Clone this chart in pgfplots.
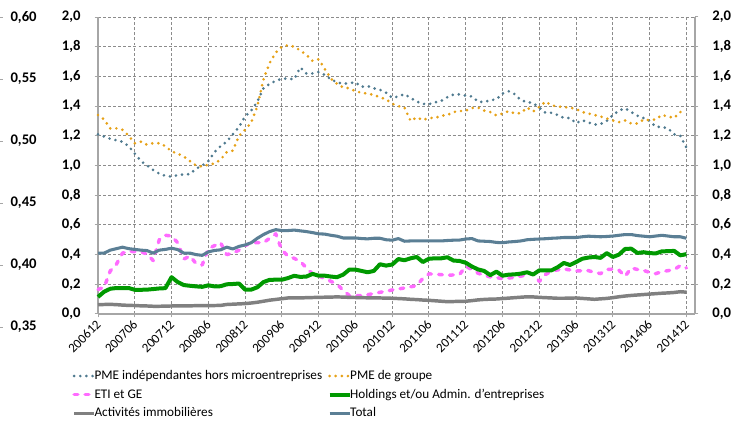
\documentclass[border=0pt]{standalone}
\usepackage{fontspec}
\setmainfont{Carlito}
\newfontfamily\fa{Carlito}
\usepackage{pgfplots}
\pgfplotsset{compat=1.18}
\usepackage{pgfplotstable}
\definecolor{cInd}{HTML}{4F7A8F}
\definecolor{cGrp}{HTML}{E6A117}
\definecolor{cEti}{HTML}{FF6BFF}
\definecolor{cHold}{HTML}{009900}
\definecolor{cImmo}{HTML}{808080}
\definecolor{cTot}{HTML}{5B7F95}
\definecolor{cGrid}{HTML}{8C8C8C}
\definecolor{cAxis}{HTML}{A6A6A6}
\pgfplotstableread{
i A B C D E F
0 1.21 1.34 0.165 0.115 0.063 0.41
1 1.195 1.31 0.18 0.15 0.064 0.41
2 1.18 1.25 0.29 0.17 0.065 0.43
3 1.17 1.25 0.335 0.175 0.063 0.44
4 1.16 1.24 0.41 0.175 0.06 0.45
5 1.13 1.20 0.422 0.175 0.058 0.44
6 1.08 1.15 0.42 0.163 0.057 0.435
7 1.03 1.16 0.418 0.163 0.055 0.43
8 1.00 1.14 0.404 0.164 0.054 0.427
9 0.97 1.15 0.36 0.168 0.052 0.41
10 0.945 1.15 0.50 0.172 0.052 0.43
11 0.93 1.13 0.53 0.174 0.053 0.435
12 0.925 1.095 0.525 0.248 0.054 0.443
13 0.935 1.08 0.48 0.215 0.054 0.434
14 0.94 1.06 0.37 0.195 0.055 0.41
15 0.942 1.03 0.39 0.19 0.055 0.41
16 0.978 1.00 0.34 0.186 0.056 0.40
17 1.00 0.993 0.33 0.183 0.056 0.395
18 1.03 1.005 0.44 0.193 0.057 0.418
19 1.09 1.013 0.46 0.186 0.057 0.428
20 1.13 1.04 0.48 0.187 0.058 0.432
21 1.16 1.09 0.40 0.20 0.064 0.45
22 1.21 1.10 0.41 0.202 0.066 0.438
23 1.26 1.20 0.43 0.205 0.068 0.455
24 1.33 1.24 0.46 0.164 0.07 0.465
25 1.37 1.29 0.48 0.164 0.074 0.48
26 1.43 1.40 0.48 0.18 0.079 0.51
27 1.52 1.58 0.48 0.215 0.086 0.535
28 1.55 1.69 0.51 0.23 0.093 0.555
29 1.57 1.76 0.54 0.231 0.098 0.568
30 1.585 1.80 0.43 0.231 0.103 0.562
31 1.585 1.81 0.39 0.242 0.108 0.562
32 1.58 1.80 0.375 0.257 0.108 0.565
33 1.66 1.775 0.355 0.25 0.108 0.56
34 1.62 1.745 0.31 0.252 0.11 0.555
35 1.62 1.705 0.27 0.27 0.111 0.548
36 1.63 1.715 0.255 0.258 0.112 0.54
37 1.61 1.65 0.24 0.258 0.113 0.538
38 1.58 1.585 0.22 0.252 0.114 0.53
39 1.56 1.55 0.2 0.248 0.115 0.524
40 1.55 1.526 0.16 0.265 0.114 0.512
41 1.555 1.52 0.124 0.299 0.112 0.512
42 1.56 1.50 0.124 0.299 0.111 0.512
43 1.53 1.49 0.124 0.29 0.11 0.508
44 1.535 1.484 0.13 0.281 0.109 0.506
45 1.52 1.475 0.138 0.29 0.108 0.51
46 1.51 1.46 0.146 0.335 0.108 0.51
47 1.49 1.445 0.153 0.326 0.107 0.5
48 1.455 1.416 0.162 0.333 0.106 0.497
49 1.465 1.40 0.169 0.37 0.104 0.508
50 1.48 1.39 0.175 0.362 0.102 0.49
51 1.455 1.30 0.183 0.375 0.099 0.492
52 1.43 1.324 0.191 0.384 0.097 0.492
53 1.415 1.306 0.24 0.35 0.094 0.492
54 1.413 1.32 0.27 0.372 0.092 0.492
55 1.425 1.32 0.268 0.375 0.089 0.492
56 1.435 1.335 0.265 0.375 0.086 0.492
57 1.46 1.34 0.261 0.382 0.083 0.495
58 1.478 1.36 0.263 0.36 0.084 0.497
59 1.479 1.366 0.267 0.357 0.085 0.498
60 1.47 1.37 0.32 0.345 0.086 0.505
61 1.465 1.387 0.30 0.32 0.09 0.508
62 1.43 1.39 0.275 0.3 0.095 0.492
63 1.427 1.37 0.26 0.29 0.098 0.49
64 1.44 1.36 0.25 0.262 0.1 0.488
65 1.445 1.337 0.245 0.285 0.101 0.482
66 1.485 1.35 0.238 0.258 0.104 0.48
67 1.50 1.366 0.242 0.265 0.107 0.485
68 1.48 1.35 0.247 0.267 0.11 0.488
69 1.44 1.353 0.255 0.272 0.113 0.492
70 1.427 1.39 0.263 0.281 0.116 0.5
71 1.42 1.364 0.272 0.266 0.115 0.503
72 1.39 1.395 0.22 0.294 0.112 0.505
73 1.355 1.43 0.265 0.294 0.11 0.507
74 1.355 1.405 0.29 0.294 0.108 0.51
75 1.34 1.398 0.297 0.315 0.106 0.512
76 1.32 1.393 0.303 0.344 0.106 0.515
77 1.32 1.39 0.297 0.33 0.107 0.515
78 1.285 1.38 0.29 0.35 0.108 0.515
79 1.305 1.36 0.291 0.372 0.105 0.52
80 1.29 1.35 0.292 0.38 0.102 0.524
81 1.275 1.34 0.28 0.384 0.099 0.522
82 1.28 1.33 0.272 0.378 0.102 0.52
83 1.30 1.317 0.3 0.41 0.105 0.522
84 1.34 1.303 0.302 0.384 0.11 0.525
85 1.37 1.292 0.294 0.4 0.116 0.53
86 1.385 1.303 0.254 0.438 0.121 0.535
87 1.36 1.283 0.31 0.44 0.125 0.535
88 1.335 1.283 0.30 0.411 0.128 0.528
89 1.32 1.308 0.294 0.416 0.131 0.524
90 1.30 1.306 0.28 0.41 0.134 0.52
91 1.26 1.31 0.272 0.408 0.137 0.525
92 1.26 1.34 0.285 0.422 0.14 0.53
93 1.25 1.33 0.292 0.423 0.142 0.525
94 1.21 1.32 0.299 0.425 0.145 0.52
95 1.20 1.36 0.326 0.395 0.15 0.52
96 1.12 1.364 0.31 0.403 0.147 0.51
}\data
\begin{document}
\begin{tikzpicture}
\useasboundingbox (0,0) rectangle (549.75pt,315.75pt);
% outer left axis (0.35 - 0.60)
\begin{axis}[at={(2.25pt,70.5pt)}, anchor=south west, scale only axis,
  width=10pt, height=232.5pt, xmin=0, xmax=1, ymin=0.35, ymax=0.60,
  hide x axis, axis y line*=left, y axis line style={draw=none},
  ytick={0.35,0.40,0.45,0.50,0.55,0.60},
  yticklabels={0{,}35,0{,}40,0{,}45,0{,}50,0{,}55,0{,}60},
  tick align=outside, major tick length=2.25pt, ytick style={draw=cAxis},
  yticklabel style={font=\fa\fontsize{11}{13}\bfseries, anchor=east, xshift=31pt}]
\end{axis}
% main axis
\begin{axis}[at={(73.5pt,80.25pt)}, anchor=south west, scale only axis,
  width=447.75pt, height=222.75pt, xmin=0, xmax=97.4, ymin=0, ymax=2,
  axis x line*=bottom, axis y line*=left,
  axis line style={draw=cAxis, line width=1pt},
  xtick={0,6,...,96},
  xticklabels={200612,200706,200712,200806,200812,200906,200912,201006,201012,201106,201112,201206,201212,201306,201312,201406,201412},
  xticklabel style={font=\fontsize{9.8}{11}\selectfont, rotate=45, anchor=east, yshift=-3pt, xshift=1pt},
  ytick={0,0.2,0.4,0.6,0.8,1.0,1.2,1.4,1.6,1.8,2.0},
  yticklabels={0{,}0,0{,}2,0{,}4,0{,}6,0{,}8,1{,}0,1{,}2,1{,}4,1{,}6,1{,}8,2{,}0},
  yticklabel style={font=\fa\fontsize{11}{13}\bfseries, xshift=-7pt},
  tick align=outside, major tick length=2.5pt, tick style={draw=cAxis, line width=0.75pt},
  grid=major, grid style={draw=cGrid, line width=0.75pt, dash pattern=on 2.2pt off 1.6pt},
  legend columns=2, legend cell align=left,
  legend style={draw=none, fill=none, at={(-0.05,-0.172)}, anchor=north west,
    font=\fontsize{9.9}{12}\selectfont,
    nodes={inner sep=1pt, text height=7.5pt, text depth=2.5pt},
    row sep=2pt,
    /tikz/every odd column/.append style={column sep=-2pt},
    /tikz/every even column/.append style={column sep=3pt}},
  legend image code/.code={\draw[#1] (0pt,0pt) -- (15pt,0pt);},
  clip=false]
\addplot[cInd, line width=2.2pt, line cap=round, dash pattern=on 0pt off 4.6pt] table[x=i,y=A] {\data};
\addlegendentry{PME indépendantes hors microentreprises}
\addplot[cGrp, line width=2.2pt, line cap=round, dash pattern=on 0pt off 4.6pt] table[x=i,y=B] {\data};
\addlegendentry{PME de groupe}
\addplot[cEti, line width=2.6pt, line cap=round, line join=round, dash pattern=on 2.8pt off 5.4pt] table[x=i,y=C] {\data};
\addlegendentry{ETI et GE}
\addplot[cHold, line width=3pt, line join=round] table[x=i,y=D] {\data};
\addlegendentry{Holdings et/ou Admin. d'entreprises}
\addplot[cImmo, line width=2.6pt, line join=round] table[x=i,y=E] {\data};
\addlegendentry{Activités immobilières}
\addplot[cTot, line width=2.3pt, line join=round] table[x=i,y=F] {\data};
\addlegendentry{Total}
\end{axis}
% right axis
\begin{axis}[at={(73.5pt,80.25pt)}, anchor=south west, scale only axis,
  width=447.75pt, height=222.75pt, xmin=0, xmax=97.4, ymin=0, ymax=2,
  hide x axis, axis y line*=right,
  axis line style={draw=cAxis, line width=1pt},
  ytick={0,0.2,0.4,0.6,0.8,1.0,1.2,1.4,1.6,1.8,2.0},
  yticklabels={0{,}0,0{,}2,0{,}4,0{,}6,0{,}8,1{,}0,1{,}2,1{,}4,1{,}6,1{,}8,2{,}0},
  tick align=outside, major tick length=2.5pt, tick style={draw=cAxis, line width=0.75pt},
  yticklabel style={font=\fa\fontsize{11}{13}\bfseries, anchor=west, xshift=7pt}]
\end{axis}
\end{tikzpicture}
\end{document}
